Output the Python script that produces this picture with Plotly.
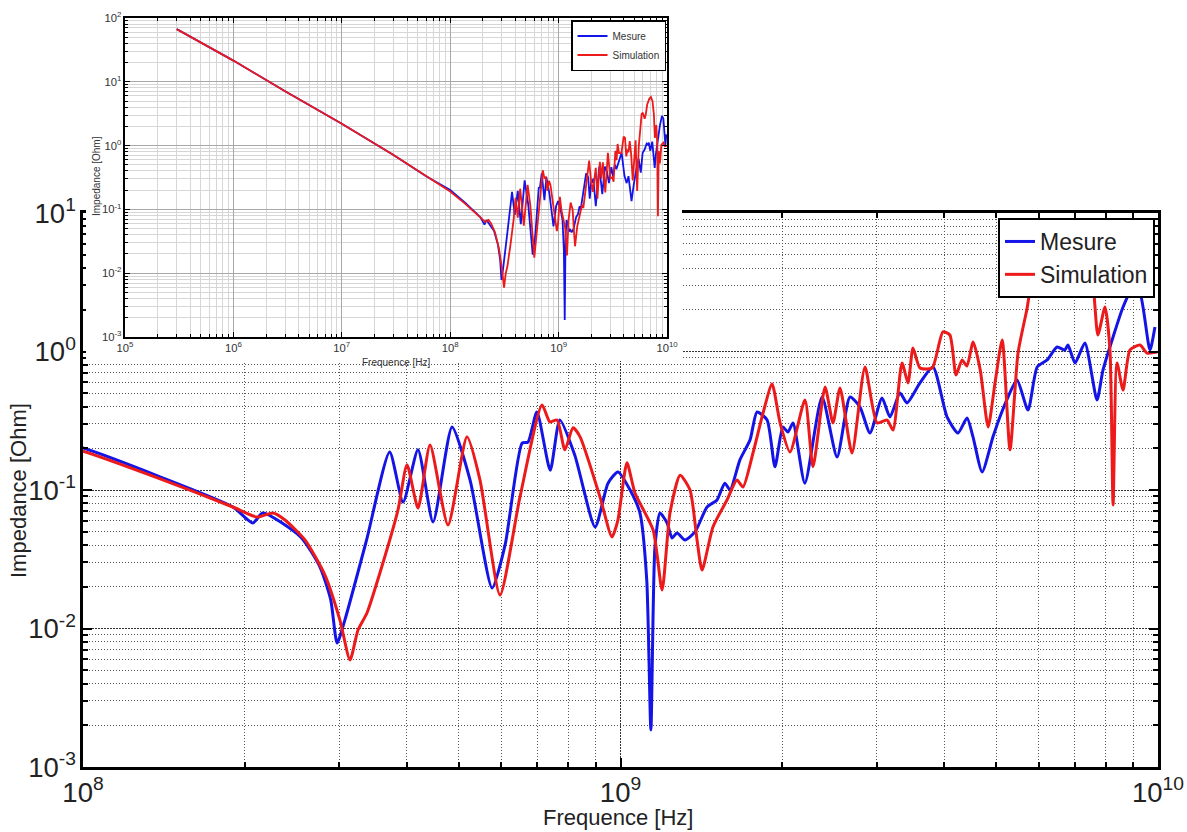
import plotly.graph_objects as go

# ---------------- data ----------------
# low-frequency capacitive part, common to both curves (visible in the inset)
f_low_GHz = [0.0003, 0.001, 0.003, 0.01, 0.03, 0.06]
z_low = [67, 21.5, 7.1, 2.2, 0.71, 0.33]

# Mesure (blue)
f_mes_GHz = [0.100, 0.138, 0.190, 0.207, 0.216, 0.254, 0.276, 0.289, 0.297, 0.307,
             0.337, 0.372, 0.394, 0.420, 0.448, 0.486, 0.525, 0.577, 0.610, 0.656,
             0.673, 0.699, 0.740, 0.771, 0.822, 0.897, 0.948, 0.989, 1.042, 1.087,
             1.119, 1.139, 1.159, 1.184, 1.221, 1.247, 1.274, 1.318, 1.376, 1.449,
             1.512, 1.563, 1.599, 1.668, 1.742, 1.795, 1.874, 1.938, 2.005, 2.049,
             2.094, 2.203, 2.371, 2.529, 2.673, 2.790, 2.912, 3.066, 3.172, 3.311,
             3.412, 3.607, 3.814, 4.050, 4.245, 4.413, 4.527, 4.707, 4.932, 5.08,
             5.26, 5.467, 5.73, 5.96, 6.22, 6.49, 6.71, 6.80, 7.01, 7.31,
             7.70, 7.90, 8.25, 8.61, 8.99, 9.26, 9.66, 9.87]
z_mes = [0.201, 0.126, 0.0754, 0.0578, 0.0682, 0.0458, 0.0278, 0.0161, 0.00785, 0.0115,
         0.0436, 0.188, 0.0818, 0.195, 0.0587, 0.285, 0.118, 0.0196, 0.0401, 0.218,
         0.222, 0.366, 0.139, 0.320, 0.179, 0.0541, 0.112, 0.135, 0.100, 0.0682,
         0.0224, 0.00185, 0.0387, 0.0682, 0.0578, 0.0450, 0.0490, 0.0436, 0.0498, 0.0754,
         0.0847, 0.112, 0.100, 0.165, 0.230, 0.366, 0.320, 0.147, 0.285, 0.262,
         0.305, 0.112, 0.469, 0.173, 0.469, 0.397, 0.258, 0.461, 0.337, 0.501,
         0.425, 0.593, 0.773, 0.337, 0.258, 0.331, 0.242, 0.135, 0.242, 0.337,
         0.469, 0.622, 0.378, 0.773, 0.869, 1.078, 1.026, 1.114, 0.826, 1.152,
         0.447, 0.734, 1.273, 2.094, 2.925, 2.64, 1.026, 1.50]

# Simulation (red)
f_sim_GHz = [0.100, 0.138, 0.190, 0.2108, 0.2257, 0.2376, 0.2588, 0.2819, 0.3006, 0.3139,
             0.3248, 0.3375, 0.3614, 0.3855, 0.4007, 0.4201, 0.4422, 0.4776, 0.5181, 0.5478,
             0.5968, 0.650, 0.7145, 0.739, 0.762, 0.788, 0.816, 0.841, 0.916, 0.964,
             0.989, 1.028, 1.064, 1.150, 1.195, 1.236, 1.291, 1.347, 1.388, 1.418,
             1.486, 1.578, 1.647, 1.690, 1.764, 1.842, 1.914, 1.981, 2.067, 2.204,
             2.281, 2.402, 2.485, 2.561, 2.696, 2.850, 3.001, 3.133, 3.214, 3.340,
             3.427, 3.501, 3.607, 3.80, 3.98, 4.10, 4.21, 4.32, 4.41, 4.53,
             4.67, 4.83, 4.975, 5.13, 5.305, 5.49, 5.70, 5.83, 5.98, 6.22,
             6.38, 6.57, 6.86, 7.10, 7.35, 7.57, 7.73, 7.97, 8.14, 8.25,
             8.39, 8.61, 8.87, 9.26, 9.54, 9.96]
z_sim = [0.191, 0.122, 0.0754, 0.0638, 0.0682, 0.0607, 0.0436, 0.0243, 0.0115, 0.00593,
         0.00975, 0.01294, 0.0297, 0.0718, 0.152, 0.0741, 0.211, 0.0558, 0.242, 0.118,
         0.01746, 0.0889, 0.411, 0.310, 0.320, 0.195, 0.281, 0.242, 0.0889, 0.0458,
         0.0607, 0.157, 0.0951, 0.0514, 0.0190, 0.0682, 0.128, 0.100, 0.0436, 0.0264,
         0.0541, 0.0847, 0.118, 0.105, 0.185, 0.360, 0.582, 0.305, 0.188, 0.447,
         0.147, 0.555, 0.305, 0.545, 0.185, 0.773, 0.305, 0.320, 0.271, 0.826,
         0.593, 1.06, 0.760, 0.760, 1.384, 1.315, 0.676, 0.869, 0.785, 1.172,
         0.734, 0.285, 0.593, 1.21, 0.195, 0.975, 1.994, 3.12, 3.28, 2.64,
         3.12, 4.43, 5.41, 5.78, 4.98, 3.07, 1.315, 2.094, 1.026, 0.078,
         0.826, 0.527, 1.026, 1.114, 0.975, 0.99]

series_names = ["Mesure", "Simulation"]
x_title = "Frequence [Hz]"
y_title = "Impedance [Ohm]"
# decade labels written as 10^k (plotly would print plain "1" and "10")
decade_alias = {
    "1": "10<sup>0</sup>", "10": "10<sup>1</sup>",
    "10<sup>\u22121</sup>": "10<sup>-1</sup>",
    "10<sup>\u22122</sup>": "10<sup>-2</sup>",
    "10<sup>\u22123</sup>": "10<sup>-3</sup>",
}

# ---------------- geometry helpers ----------------
W, H = 1187, 832
def fx(p):
    return p / W
def fy(p):
    return 1 - p / H

BLUE = "#1414e6"
RED = "#ec1a1a"
FONT = "Liberation Sans"

f_mes_hz = [f * 1e9 for f in f_low_GHz + f_mes_GHz]
z_mes_all = z_low + z_mes
f_sim_hz = [f * 1e9 for f in f_low_GHz + f_sim_GHz]
z_sim_all = z_low + z_sim

fig = go.Figure()

# main plot
fig.add_trace(go.Scatter(x=f_mes_hz, y=z_mes_all, mode="lines", name=series_names[0],
                         line=dict(color=BLUE, width=3, shape="spline", smoothing=0.6),
                         xaxis="x", yaxis="y", legend="legend"))
fig.add_trace(go.Scatter(x=f_sim_hz, y=z_sim_all, mode="lines", name=series_names[1],
                         line=dict(color=RED, width=3, shape="spline", smoothing=0.6),
                         xaxis="x", yaxis="y", legend="legend"))
# white mask subplot (hides the main grid behind the inset)
fig.add_trace(go.Scatter(x=[0.5], y=[0.5], mode="markers", marker=dict(opacity=0),
                         showlegend=False, hoverinfo="skip", xaxis="x2", yaxis="y2"))
# inset plot
fig.add_trace(go.Scatter(x=f_mes_hz, y=z_mes_all, mode="lines", name=series_names[0],
                         line=dict(color=BLUE, width=1.8), xaxis="x3", yaxis="y3", legend="legend2"))
fig.add_trace(go.Scatter(x=f_sim_hz, y=z_sim_all, mode="lines", name=series_names[1],
                         line=dict(color=RED, width=1.8), xaxis="x3", yaxis="y3", legend="legend2"))

main_axis = dict(
    type="log", dtick=1, exponentformat="power", automargin=False,
    labelalias=decade_alias,
    showline=True, linewidth=2.5, linecolor="black", mirror="ticks",
    ticks="inside", ticklen=9, tickwidth=2, tickcolor="black",
    showgrid=True, gridcolor="#333333", griddash="2px,1px", gridwidth=1,
    zeroline=False,
    tickfont=dict(size=22, family=FONT, color="#222222"),
    minor=dict(dtick="D1", ticks="inside", ticklen=5, tickwidth=1.5, tickcolor="black",
               showgrid=True, gridcolor="#555555", griddash="1px,2px", gridwidth=1),
)
inset_axis = dict(
    type="log", dtick=1, exponentformat="power", automargin=False,
    labelalias=decade_alias,
    showline=True, linewidth=1.5, linecolor="black", mirror="ticks",
    ticks="inside", ticklen=5, tickwidth=1.2, tickcolor="black",
    showgrid=True, gridcolor="#a8a8a8", gridwidth=1,
    zeroline=False,
    tickfont=dict(size=9, family=FONT, color="#333333"),
    minor=dict(dtick="D1", ticks="inside", ticklen=3, tickwidth=1, tickcolor="black",
               showgrid=True, gridcolor="#d6d6d6", gridwidth=1),
)

fig.update_layout(
    template="none",
    width=W, height=H, autosize=False,
    margin=dict(l=0, r=0, t=0, b=0, pad=0),
    paper_bgcolor="white", plot_bgcolor="white",
    font=dict(family=FONT),
    xaxis=dict(main_axis, domain=[fx(83), fx(1158)], range=[8, 10], anchor="y"),
    yaxis=dict(main_axis, domain=[fy(767), fy(213)], range=[-3, 1], anchor="x"),
    xaxis2=dict(domain=[fx(86), fx(682)], range=[0, 1], visible=False, anchor="y2",
                automargin=False),
    yaxis2=dict(domain=[fy(361), 1.0], range=[0, 1], visible=False, anchor="x2",
                automargin=False),
    xaxis3=dict(inset_axis, domain=[fx(125), fx(667)], range=[5, 10], anchor="y3"),
    yaxis3=dict(inset_axis, domain=[fy(337), fy(18)], range=[-3, 2], anchor="x3"),
    legend=dict(x=fx(1155), xanchor="right", y=fy(218), yanchor="top",
                bgcolor="white", bordercolor="black", borderwidth=2,
                font=dict(size=23, family=FONT, color="#222222"), tracegroupgap=0),
    legend2=dict(x=fx(666), xanchor="right", y=fy(20), yanchor="top",
                 bgcolor="white", bordercolor="black", borderwidth=1.5,
                 font=dict(size=10, family=FONT, color="#333333"), tracegroupgap=0),
    annotations=[
        dict(text=x_title, x=fx(618), y=fy(817), xref="paper", yref="paper",
             showarrow=False, xanchor="center", yanchor="middle",
             font=dict(size=22, family=FONT, color="#222222")),
        dict(text=y_title, x=fx(19), y=fy(491), xref="paper", yref="paper",
             showarrow=False, xanchor="center", yanchor="middle", textangle=-90,
             font=dict(size=22, family=FONT, color="#222222")),
        dict(text=x_title, x=fx(396), y=fy(362), xref="paper", yref="paper",
             showarrow=False, xanchor="center", yanchor="middle",
             font=dict(size=10, family=FONT, color="#333333")),
        dict(text=y_title, x=fx(96), y=fy(176), xref="paper", yref="paper",
             showarrow=False, xanchor="center", yanchor="middle", textangle=-90,
             font=dict(size=10, family=FONT, color="#333333")),
    ],
    showlegend=True,
)

fig.write_html("out.html",
               config={"displayModeBar": False},
               post_script="document.body.style.margin='0px';"
                           "document.body.style.overflow='hidden';")
